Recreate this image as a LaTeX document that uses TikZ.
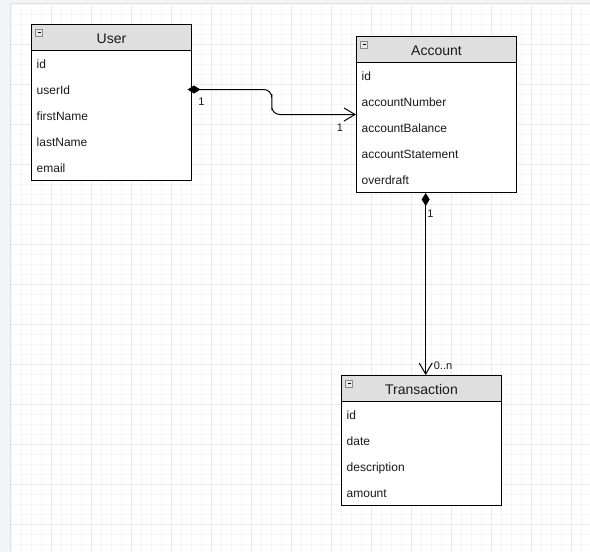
\documentclass[tikz,border=0pt]{standalone}
\usepackage{fontspec}
\setmainfont{Liberation Sans}
\usetikzlibrary{arrows.meta,calc}
\definecolor{outerbg}{HTML}{F2F3F5}
\definecolor{edgeline}{HTML}{E2E3E5}
\definecolor{gridminor}{HTML}{F5F5F5}
\definecolor{gridmajor}{HTML}{EAEAEA}
\definecolor{hdrfill}{HTML}{DFDFDF}
\definecolor{txt}{HTML}{1A1A1A}
\definecolor{iconborder}{HTML}{7F8C99}
\definecolor{iconfill}{HTML}{E6E9EE}
\begin{document}
\begin{tikzpicture}[x=1pt,y=-1pt,
  hdr/.style={draw=black, line width=1pt, fill=hdrfill, minimum width=160pt, minimum height=26pt, inner sep=0pt, text height=12.6pt, text depth=0pt, font=\fontsize{14}{16}\selectfont, text=txt},
  classbody/.style={draw=black, line width=1pt, fill=white, minimum width=160pt, inner sep=0pt},
  attr/.style={anchor=west, inner sep=0pt, text height=9pt, text depth=0pt, font=\fontsize{12}{14}\selectfont, text=txt},
  mult/.style={inner sep=0pt, font=\fontsize{11}{13}\selectfont, text=txt},
  rel/.style={line width=1pt, draw=black, {Diamond[length=13pt,width=8pt]}-{Straight Barb[length=11pt,width=13pt,line width=1pt]}},
  icon/.style={draw=iconborder, fill=iconfill, line width=0.8pt, minimum size=7pt, inner sep=0pt,
    path picture={\draw[black, line width=0.9pt] ([xshift=1.8pt]path picture bounding box.west) -- ([xshift=-1.8pt]path picture bounding box.east);}},
]
\useasboundingbox (0,0) rectangle (590,552);
% background canvas and grid
\fill[outerbg] (0,0) rectangle (590,552);
\fill[white] (10.5,3.5) rectangle (590,552);
\foreach \gx in {11.5,21.5,...,590} \draw[gridminor, line width=1pt] (\gx,3.5) -- (\gx,552);
\foreach \gy in {4.5,14.5,...,552} \draw[gridminor, line width=1pt] (10.5,\gy) -- (590,\gy);
\foreach \gx in {51.5,91.5,...,590} \draw[gridmajor, line width=1pt] (\gx,3.5) -- (\gx,552);
\foreach \gy in {44.5,84.5,...,552} \draw[gridmajor, line width=1pt] (10.5,\gy) -- (590,\gy);
\draw[edgeline, line width=1pt] (10.5,552) -- (10.5,3.5) -- (590,3.5);

% User
\node[classbody, minimum height=130pt] (userbody) at (111.5,115.5) {};
\node[hdr] (user) at (111.5,37.5) {User};
\node[icon] (usericon) at ($(user.north west)+(8.2,8.5)$) {};
\node[attr] (u-id) at (36.5,63.5) {id};
\node[attr] (u-userid) at (36.5,89.5) {userId};
\node[attr] (u-first) at (36.5,115.5) {firstName};
\node[attr] (u-last) at (36.5,141.5) {lastName};
\node[attr] (u-email) at (36.5,167.5) {email};

% Account
\node[classbody, minimum height=130pt] (acctbody) at (436.5,127.5) {};
\node[hdr] (account) at (436.5,49.5) {Account};
\node[icon] (accticon) at ($(account.north west)+(8.2,8.5)$) {};
\node[attr] (a-id) at (361.5,75.5) {id};
\node[attr] (a-number) at (361.5,101.5) {accountNumber};
\node[attr] (a-balance) at (361.5,127.5) {accountBalance};
\node[attr] (a-statement) at (361.5,153.5) {accountStatement};
\node[attr] (a-overdraft) at (361.5,179.5) {overdraft};

% Transaction
\node[classbody, minimum height=104pt] (transbody) at (421.5,453.5) {};
\node[hdr] (trans) at (421.5,388.5) {Transaction};
\node[icon] (transicon) at ($(trans.north west)+(8.2,8.5)$) {};
\node[attr] (t-id) at (346.5,414.5) {id};
\node[attr] (t-date) at (346.5,440.5) {date};
\node[attr] (t-desc) at (346.5,466.5) {description};
\node[attr] (t-amount) at (346.5,492.5) {amount};

% User -- Account
\coordinate (r1start) at ([xshift=-4.5pt]userbody.east |- u-userid);
\coordinate (r1mid) at ($(a-number)!0.5!(a-balance)$);
\coordinate (r1end) at (acctbody.west |- r1mid);
\coordinate (r1bend) at ($(r1start)!0.5!(r1end)$);
\draw[rel, rounded corners=8pt] (r1start) -| (r1bend) |- (r1end);
\node[mult] (m1) at (201.5,101.5) {1};
\node[mult] (m2) at (340,128) {1};

% Account -- Transaction
\coordinate (r2start) at ([xshift=-10.8pt]acctbody.south);
\coordinate (r2end) at (r2start |- trans.north);
\draw[rel] (r2start) -- (r2end);
\node[mult] (m3) at (430.5,214) {1};
\node[mult] (m4) at (443,366) {0..n};
\end{tikzpicture}
\end{document}
